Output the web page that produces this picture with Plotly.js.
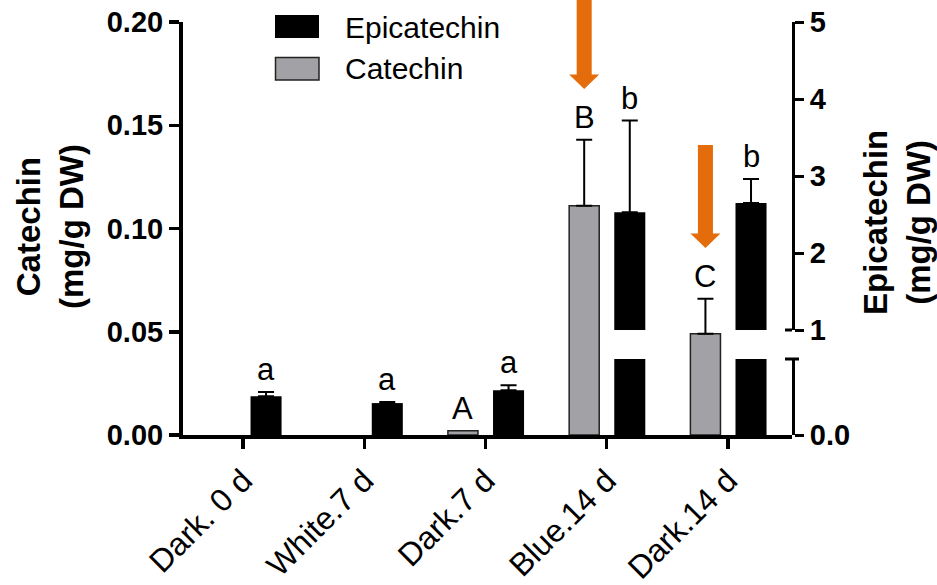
<!DOCTYPE html>
<html>
<head>
<meta charset="utf-8">
<script src="https://cdn.plot.ly/plotly-3.0.1.min.js"></script>
<style>html,body{margin:0;padding:0;background:#fff;}#chart{width:937px;height:585px;}</style>
</head>
<body>
<div id="chart"></div>
<script>
// ---- data ----
const categories = ['Dark. 0 d', 'White.7 d', 'Dark.7 d', 'Blue.14 d', 'Dark.14 d'];
const catechin = [0, 0, 0.002, 0.111, 0.049];          // mg/g DW (left axis)
const catechinErr = [null, null, null, 0.032, 0.017];
const epicatechin = [0.51, 0.42, 0.59, 2.53, 2.65];     // mg/g DW (right, broken axis)
const epicatechinErr = [0.056, 0.013, 0.066, 1.19, 0.31];
const catechinLetters = ['', '', 'A', 'B', 'C'];
const epicatechinLetters = ['a', 'a', 'a', 'b', 'b'];
const leftTicks = [0, 0.05, 0.10, 0.15, 0.20];
const rightUpperTicks = [1, 2, 3, 4, 5];
const rightLowerTicks = [0];
const rightLowerTickText = ['0.0'];
const arrowCats = [3, 4];              // arrows above catechin bars
const arrowTips = [0.1676, 0.0906];    // catechin-axis value at arrow tip
const arrowTops = [0.215, 0.1404];     // catechin-axis value at arrow tail

// ---- layout constants ----
const W = 937, H = 585;
const M = {l: 183, r: 145, t: 22, b: 150};
const PW = W - M.l - M.r, PH = H - M.t - M.b;
const XR = [-0.495, 4.528];
const BREAK_LOW = 76 / PH;   // top of lower segment (paper)
const BREAK_HIGH = 105 / PH; // bottom of upper segment (paper)
const FONT = 'Liberation Sans, Arial, Helvetica, sans-serif';
const GRAY = '#a2a2a6';
const ORANGE = '#e46c0a';
const CAT_OFF = -0.31, CAT_W = 0.248, EPI_OFF = 0.062, EPI_W = 0.256;

const px2x = p => (p - M.l) / PW;      // pixel -> paper x
const py2y = p => (H - M.b - p) / PH;  // pixel -> paper y
const cat2x = c => (c - XR[0]) / (XR[1] - XR[0]);
const isLow = epicatechin.map(v => v < 1);

// missing error values become NaN so Plotly draws no cap for them
const errBar = arr => ({type: 'data', symmetric: false,
  array: arr.map(e => e == null ? NaN : e),
  arrayminus: arr.map(e => e == null ? NaN : 0),
  color: '#000', thickness: 2, width: 8, visible: true});

const traces = [
  {type: 'bar', name: 'Catechin', x: categories, y: catechin, xaxis: 'x', yaxis: 'y',
   offset: CAT_OFF, width: CAT_W,
   marker: {color: GRAY, opacity: catechin.map(v => v > 0 ? 1 : 0),
            line: {color: '#222', width: catechin.map(v => v > 0 ? 1.5 : 0)}},
   error_y: errBar(catechinErr), showlegend: false, hoverinfo: 'skip'},
  {type: 'bar', name: 'Epicatechin', x: categories, y: epicatechin, xaxis: 'x', yaxis: 'y2',
   offset: EPI_OFF, width: EPI_W, marker: {color: '#000', line: {width: 0}},
   error_y: errBar(epicatechinErr.map((e, i) => isLow[i] ? e : null)), showlegend: false, hoverinfo: 'skip'},
  {type: 'bar', name: 'Epicatechin', x: categories, y: epicatechin, xaxis: 'x', yaxis: 'y3',
   offset: EPI_OFF, width: EPI_W, marker: {color: '#000', line: {width: 0}},
   error_y: errBar(epicatechinErr.map((e, i) => isLow[i] ? null : e)), showlegend: false, hoverinfo: 'skip'}
];

const annotations = [];
const shapes = [];
// significance letters
categories.forEach((c, i) => {
  if (catechinLetters[i]) {
    annotations.push({xref: 'x', yref: 'y', x: i + CAT_OFF + CAT_W / 2,
      y: catechin[i] + (catechinErr[i] || 0), text: catechinLetters[i], showarrow: false,
      yanchor: 'bottom', xanchor: 'center', yshift: 3, font: {family: FONT, size: 31, color: '#000'}});
  }
  annotations.push({xref: 'x', yref: isLow[i] ? 'y2' : 'y3', x: i + EPI_OFF + EPI_W / 2,
    y: epicatechin[i] + epicatechinErr[i], text: epicatechinLetters[i], showarrow: false,
    yanchor: 'bottom', xanchor: 'center', yshift: 3, font: {family: FONT, size: 31, color: '#000'}});
});
// axis titles
annotations.push({xref: 'paper', yref: 'paper', x: px2x(50), y: py2y(227), textangle: -90,
  text: 'Catechin<br>(mg/g DW)', showarrow: false, xanchor: 'center', yanchor: 'middle',
  font: {family: FONT, size: 33, color: '#000', weight: 700}});
annotations.push({xref: 'paper', yref: 'paper', x: px2x(897), y: py2y(222), textangle: -90,
  text: 'Epicatechin<br>(mg/g DW)', showarrow: false, xanchor: 'center', yanchor: 'middle',
  font: {family: FONT, size: 33, color: '#000', weight: 700}});
// legend
annotations.push({xref: 'paper', yref: 'paper', x: px2x(343), y: py2y(27), text: 'Epicatechin',
  showarrow: false, xanchor: 'left', yanchor: 'middle', font: {family: FONT, size: 30, color: '#000'}});
annotations.push({xref: 'paper', yref: 'paper', x: px2x(343), y: py2y(69), text: 'Catechin',
  showarrow: false, xanchor: 'left', yanchor: 'middle', font: {family: FONT, size: 30, color: '#000'}});
shapes.push({type: 'rect', xref: 'paper', yref: 'paper', x0: px2x(275), x1: px2x(319),
  y0: py2y(38), y1: py2y(15), fillcolor: '#000', line: {width: 0}});
shapes.push({type: 'rect', xref: 'paper', yref: 'paper', x0: px2x(275.5), x1: px2x(319),
  y0: py2y(80), y1: py2y(57.5), fillcolor: GRAY, line: {color: '#222', width: 1.5}});
// orange arrows (paper-coordinate paths)
arrowCats.forEach((c, k) => {
  const cx = cat2x(c + CAT_OFF + CAT_W / 2);
  const sw = 7.5 / PW, hw = 15 / PW, hl = 14.5 / PH;
  const tip = arrowTips[k] / 0.2, top = arrowTops[k] / 0.2, hb = tip + hl;
  const pt = (x, y) => x.toFixed(5) + ',' + y.toFixed(5);
  const path = 'M' + pt(cx - sw, top) + ' L' + pt(cx + sw, top) + ' L' + pt(cx + sw, hb) +
    ' L' + pt(cx + hw, hb) + ' L' + pt(cx, tip) + ' L' + pt(cx - hw, hb) +
    ' L' + pt(cx - sw, hb) + ' Z';
  shapes.push({type: 'path', xref: 'paper', yref: 'paper', path: path,
    fillcolor: ORANGE, line: {width: 0}});
});
// break caps on the right axis
shapes.push({type: 'line', xref: 'paper', yref: 'paper', x0: px2x(785), x1: px2x(799),
  y0: BREAK_LOW, y1: BREAK_LOW, line: {color: '#000', width: 3}});
shapes.push({type: 'line', xref: 'paper', yref: 'paper', x0: px2x(785), x1: 1,
  y0: BREAK_HIGH, y1: BREAK_HIGH, line: {color: '#000', width: 3}});

const axisCommon = {showgrid: false, zeroline: false, showline: true, linecolor: '#000',
  ticks: 'outside', tickcolor: '#000', fixedrange: true};

const layout = {
  width: W, height: H, margin: M, paper_bgcolor: '#fff', plot_bgcolor: 'rgba(0,0,0,0)',
  showlegend: false, barmode: 'overlay',
  font: {family: FONT, color: '#000'},
  xaxis: Object.assign({}, axisCommon, {type: 'category', range: XR, anchor: 'y', domain: [0, 1],
    linewidth: 4, ticklen: 10, tickwidth: 3.5, tickangle: -45,
    tickfont: {family: FONT, size: 32, color: '#000'}}),
  yaxis: Object.assign({}, axisCommon, {range: [0, 0.2], domain: [0, 1], anchor: 'x', side: 'left',
    tickmode: 'array', tickvals: leftTicks, tickformat: '.2f', linewidth: 4, ticklen: 10, tickwidth: 3.5,
    tickfont: {family: FONT, size: 29, color: '#000', weight: 700}}),
  yaxis2: Object.assign({}, axisCommon, {range: [0, 1], domain: [0, BREAK_LOW], anchor: 'x', side: 'right',
    tickmode: 'array', tickvals: rightLowerTicks, ticktext: rightLowerTickText, linewidth: 3, ticklen: 9, tickwidth: 3,
    tickfont: {family: FONT, size: 29, color: '#000', weight: 700}}),
  yaxis3: Object.assign({}, axisCommon, {range: [1, 5], domain: [BREAK_HIGH, 1], anchor: 'x', side: 'right',
    tickmode: 'array', tickvals: rightUpperTicks, linewidth: 3, ticklen: 9, tickwidth: 3,
    tickfont: {family: FONT, size: 29, color: '#000', weight: 700}}),
  annotations: annotations,
  shapes: shapes
};

Plotly.newPlot('chart', traces, layout, {displayModeBar: false, staticPlot: true});
</script>
</body>
</html>
